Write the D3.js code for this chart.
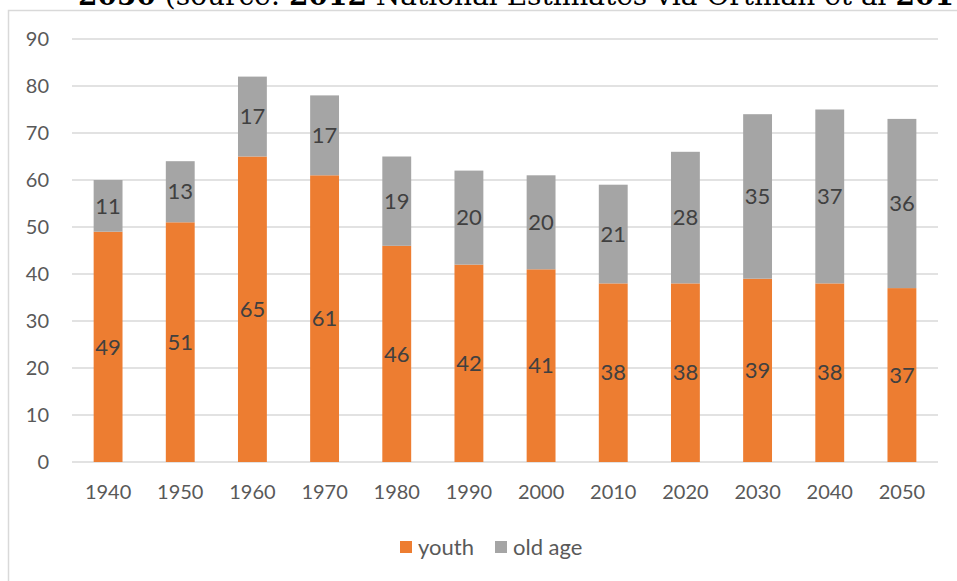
<!DOCTYPE html>
<html><head><meta charset="utf-8">
<script src="https://cdn.jsdelivr.net/npm/d3@7"></script>
<style>body{margin:0;background:#fff;}svg{display:block;}</style>
</head><body>
<svg id="c" width="957" height="581"></svg>
<script>
const years = ["1940","1950","1960","1970","1980","1990","2000","2010","2020","2030","2040","2050"];
const youth = [49,51,65,61,46,42,41,38,38,39,38,37];
const oldAge = [11,13,17,17,19,20,20,21,28,35,37,36];
const seriesNames = ["youth","old age"];
const yTicks = [0,10,20,30,40,50,60,70,80,90];

const colors = {"youth":"#ED7D31","old age":"#A5A5A5"};
const svg = d3.select("#c");
const font = "Lato, 'Open Sans', sans-serif";

// clipped document text above the chart
const t = svg.append("text").attr("x",78).attr("y",5)
  .attr("font-family","'DejaVu Serif', serif").attr("font-size",28).attr("fill","#000");
t.append("tspan").attr("font-weight","bold").text("2050");
t.append("tspan").text(" (source: ");
t.append("tspan").attr("font-weight","bold").text("2012");
t.append("tspan").text(" National Estimates via Ortman et al ");
t.append("tspan").attr("font-weight","bold").text("2014");

// chart border
svg.append("rect").attr("x",8.5).attr("y",10.5).attr("width",1000).attr("height",1000)
  .attr("fill","#fff").attr("stroke","#d9d9d9").attr("stroke-width",1.5);

const x = d3.scaleBand().domain(years).range([72,938]).paddingInner(0.6).paddingOuter(0.3);
const y = d3.scaleLinear().domain([0,90]).range([462,39]);

// gridlines
svg.append("g").selectAll("line").data(yTicks).join("line")
  .attr("x1",72).attr("x2",938).attr("y1",d=>y(d)).attr("y2",d=>y(d))
  .attr("stroke","#d9d9d9").attr("stroke-width",1.5);

// y axis
const ya = svg.append("g").attr("transform","translate(64,0)")
  .call(d3.axisLeft(y).tickValues(yTicks).tickSize(0).tickPadding(15));
ya.select(".domain").remove();
ya.selectAll("text").attr("font-family",font).attr("font-size",20).attr("fill","#595959");

// x axis
const xa = svg.append("g").attr("transform","translate(0,462)")
  .call(d3.axisBottom(x).tickSize(0).tickPadding(23));
xa.select(".domain").remove();
xa.selectAll("text").attr("font-family",font).attr("font-size",20).attr("fill","#595959");

const rows = years.map((yr,i)=>({year:yr,"youth":youth[i],"old age":oldAge[i]}));
const stacked = d3.stack().keys(seriesNames)(rows);

const g = svg.append("g");
stacked.forEach(s=>{
  g.append("g").selectAll("rect").data(s).join("rect")
    .attr("x",d=>x(d.data.year)).attr("width",x.bandwidth())
    .attr("y",d=>y(d[1])).attr("height",d=>y(d[0])-y(d[1]))
    .attr("fill",colors[s.key]);
  g.append("g").selectAll("text").data(s).join("text")
    .attr("x",d=>x(d.data.year)+x.bandwidth()/2)
    .attr("y",d=>y((d[0]+d[1])/2))
    .attr("dy","0.35em").attr("text-anchor","middle")
    .attr("font-family",font).attr("font-size",22).attr("fill","#404040")
    .text(d=>d[1]-d[0]);
});

// legend
const legend = svg.append("g");
const lx = [400,495];
seriesNames.forEach((n,i)=>{
  legend.append("rect").attr("x",lx[i]).attr("y",541).attr("width",12).attr("height",12).attr("fill",colors[n]);
  legend.append("text").attr("x",lx[i]+18).attr("y",547).attr("dy","0.35em")
    .attr("font-family",font).attr("font-size",22).attr("fill","#595959").text(n);
});
</script>
</body></html>
